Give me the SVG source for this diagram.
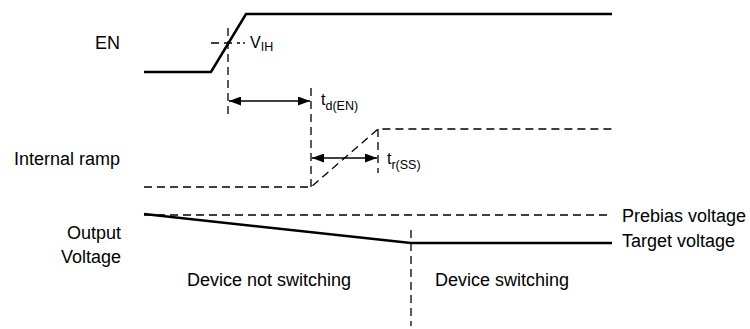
<svg xmlns="http://www.w3.org/2000/svg" width="750" height="329" viewBox="0 0 750 329">
<style>
text{font-family:"Liberation Sans",Arial,sans-serif;fill:#000}
.lbl{font-size:18px}
.sym{font-size:16px}
.sub{font-size:12.5px}
.solid{fill:none;stroke:#000;stroke-width:2.5}
.dash{fill:none;stroke:#000;stroke-width:1.3;stroke-dasharray:8 5}
.arr{fill:none;stroke:#000;stroke-width:1.3;marker-start:url(#ah);marker-end:url(#ah)}
</style>
<defs>
<marker id="ah" viewBox="0 0 12 9" refX="12" refY="4.5" markerWidth="12" markerHeight="9" markerUnits="userSpaceOnUse" orient="auto-start-reverse">
<path d="M0,0 L12,4.5 L0,9 Z" fill="#000"/>
</marker>
</defs>
<rect width="750" height="329" fill="#fff"/>
<g id="labels">
<text class="lbl" x="120" y="49" text-anchor="end">EN</text>
<text class="lbl" x="120" y="165" text-anchor="end">Internal ramp</text>
<text class="lbl" x="121" y="239" text-anchor="end">Output</text>
<text class="lbl" x="121" y="263" text-anchor="end">Voltage</text>
<text class="lbl" x="187" y="286">Device not switching</text>
<text class="lbl" x="435" y="286">Device switching</text>
<text class="lbl" x="622" y="222">Prebias voltage</text>
<text class="lbl" x="622" y="247">Target voltage</text>
<text class="sym" x="250" y="48">V<tspan class="sub" dy="3">IH</tspan></text>
<text class="sym" x="321" y="105">t<tspan class="sub" dy="5">d(EN)</tspan></text>
<text class="sym" x="387" y="164">t<tspan class="sub" dy="5">r(SS)</tspan></text>
</g>
<g id="signals">
<polyline id="en" class="solid" points="144,72 211,72 246,14 612,14"/>
<polyline id="ramp" class="dash" points="144,187 311,187 378,129 612,129"/>
<line id="prebias" class="dash" x1="144" y1="215" x2="612" y2="215"/>
<polyline id="vout" class="solid" points="144,214 411,243 612,243"/>
</g>
<g id="connectors">
<line class="dash" x1="211" y1="43" x2="240" y2="43"/>
<circle cx="244" cy="43" r="0.9" fill="#000"/>
<line class="dash" x1="228" y1="28" x2="228" y2="118"/>
<line class="dash" x1="311" y1="88" x2="311" y2="187"/>
<line class="dash" x1="378" y1="129" x2="378" y2="173"/>
<line class="dash" x1="411" y1="230" x2="411" y2="326"/>
<line class="arr" x1="229" y1="101" x2="310" y2="101"/>
<line class="arr" x1="312" y1="158" x2="377" y2="158"/>
</g>
</svg>
